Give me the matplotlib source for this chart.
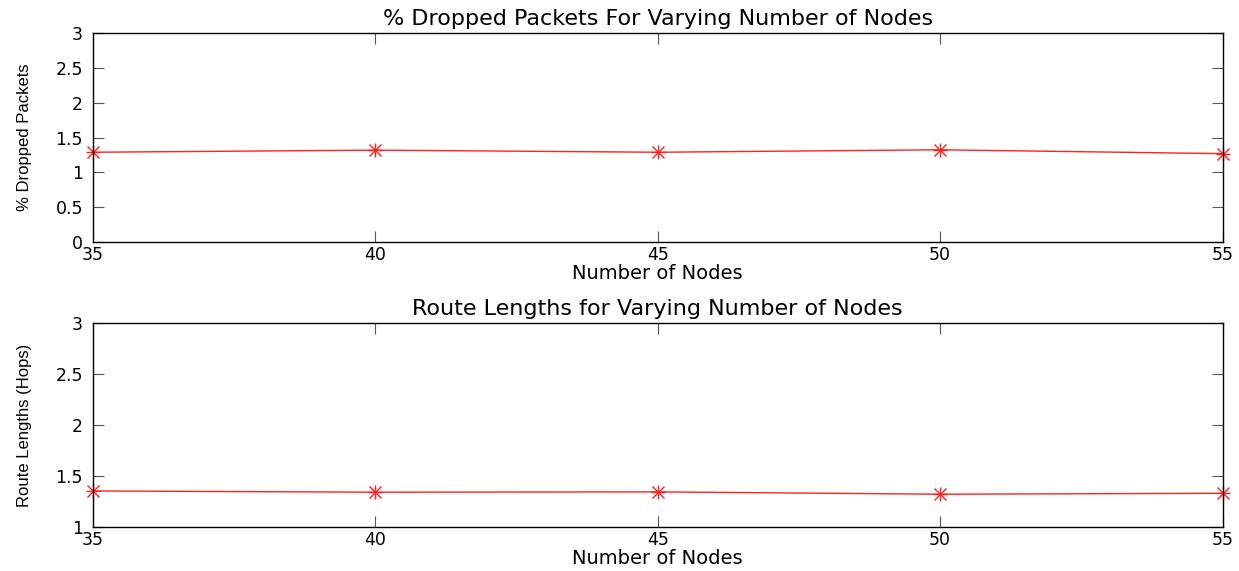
import numpy as np
import matplotlib.pyplot as plt

plt.rcParams['font.family'] = ['DejaVu Sans']

# Number of nodes in each simulation run
nodes = [35, 40, 45, 50, 55]

# Percentage of packets dropped
dropped_pct = [1.29, 1.32, 1.29, 1.325, 1.27]

# Average route length in hops
route_hops = [1.354, 1.342, 1.345, 1.322, 1.331]

fig = plt.figure(figsize=(12.39, 5.71), dpi=100)

ax1 = fig.add_axes([0.0748, 0.576, 0.912, 0.366])
ax2 = fig.add_axes([0.0748, 0.077, 0.912, 0.357])


def style_axes(ax, ylim, yticks):
    ax.set_xlim(35, 55)
    ax.set_ylim(*ylim)
    ax.set_xticks(nodes)
    ax.set_yticks(yticks)
    ax.set_yticklabels([('%g' % t) for t in yticks])
    ax.tick_params(direction='in', length=8, width=0.8, color='#555555',
                   top=True, right=True, labelsize=12.5)
    ax.tick_params(axis='x', pad=3)
    ax.tick_params(axis='y', pad=7)
    for sp in ax.spines.values():
        sp.set_linewidth(1.0)
        sp.set_color('black')


def draw_series(ax, y):
    # asterisk markers: a plus and a cross drawn on top of each other
    ax.plot(nodes, y, color='#ff2020', linewidth=1.0, clip_on=False)
    ax.plot(nodes, y, linestyle='none', marker='+', markersize=10,
            markeredgewidth=1.0, color='#ff2020', clip_on=False)
    ax.plot(nodes, y, linestyle='none', marker='x', markersize=8,
            markeredgewidth=1.0, color='#ff2020', clip_on=False)


# Top panel: dropped packets
draw_series(ax1, dropped_pct)
style_axes(ax1, (0, 3), [0, 0.5, 1, 1.5, 2, 2.5, 3])
ax1.set_title('% Dropped Packets For Varying Number of Nodes', fontsize=16, pad=6)
ax1.set_xlabel('Number of Nodes', fontsize=14, labelpad=0)
ax1.set_ylabel('% Dropped Packets', fontsize=12, labelpad=17,
               family='Liberation Sans')

# Bottom panel: route lengths
draw_series(ax2, route_hops)
style_axes(ax2, (1, 3), [1, 1.5, 2, 2.5, 3])
ax2.set_title('Route Lengths for Varying Number of Nodes', fontsize=16, pad=6)
ax2.set_xlabel('Number of Nodes', fontsize=14, labelpad=0)
ax2.set_ylabel('Route Lengths (Hops)', fontsize=12, labelpad=17,
               family='Liberation Sans')

plt.savefig('out.png', dpi=100)
